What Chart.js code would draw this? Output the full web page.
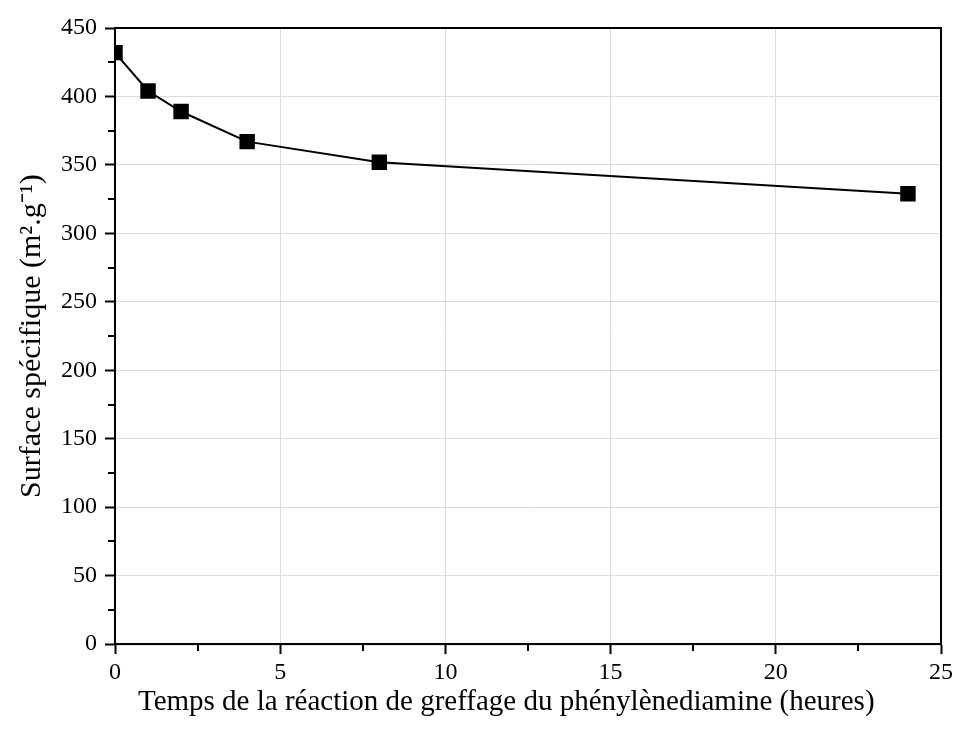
<!DOCTYPE html>
<html lang="fr">
<head>
    <meta charset="UTF-8">
    <title>Surface spécifique</title>
    <script src="https://cdn.jsdelivr.net/npm/chart.js"></script>
    <style>
        html, body { margin: 0; padding: 0; background: #fff; }
        #wrap { width: 954px; height: 734px; }
    </style>
</head>
<body>
    <div id="wrap"><canvas id="bet"></canvas></div>

    <script>
        // temps de greffage (h) et surface specifique (m2/g)
        const heures = [0, 1, 2, 4, 8, 24];
        const surface = [432, 404, 389, 367, 352, 329];

        const xTicks = [0, 5, 10, 15, 20, 25];
        const yTicks = [0, 50, 100, 150, 200, 250, 300, 350, 400, 450];

        const police = 'Liberation Serif, Times New Roman, serif';

        // cadre + petites graduations (minor ticks)
        const cadre = {
            id: 'cadre',
            afterDraw(chart) {
                const ctx = chart.ctx;
                const a = chart.chartArea;
                const sx = chart.scales.x, sy = chart.scales.y;
                ctx.save();
                ctx.strokeStyle = '#000';
                ctx.lineWidth = 2;
                ctx.strokeRect(a.left, a.top, a.right - a.left, a.bottom - a.top);
                ctx.beginPath();
                for (let v = 2.5; v < 25; v += 5) {
                    const px = Math.round(sx.getPixelForValue(v));
                    ctx.moveTo(px, a.bottom);
                    ctx.lineTo(px, a.bottom + 7);
                }
                for (let v = 25; v < 450; v += 50) {
                    const py = Math.round(sy.getPixelForValue(v));
                    ctx.moveTo(a.left, py);
                    ctx.lineTo(a.left - 7, py);
                }
                ctx.stroke();
                ctx.restore();
            }
        };

        new Chart(document.getElementById('bet'), {
            type: 'line',
            data: {
                datasets: [{
                    data: heures.map((h, i) => ({ x: h, y: surface[i] })),
                    borderColor: '#000',
                    backgroundColor: '#000',
                    borderWidth: 2,
                    pointStyle: 'rect',
                    pointRadius: 9.5,
                    pointHoverRadius: 9.5,
                    tension: 0,
                    fill: false
                }]
            },
            options: {
                responsive: true,
                maintainAspectRatio: false,
                animation: false,
                layout: { padding: { top: 28, right: 0, left: 14, bottom: 16 } },
                plugins: { legend: { display: false }, tooltip: { enabled: false } },
                scales: {
                    x: {
                        type: 'linear',
                        min: 0, max: 25,
                        afterBuildTicks: s => { s.ticks = xTicks.map(v => ({ value: v })); },
                        afterFit: s => { s.paddingRight = 13; },
                        ticks: { color: '#000', font: { family: police, size: 24, lineHeight: 1 }, padding: 7, maxRotation: 0 },
                        grid: { color: '#dcdcdc', lineWidth: 1, tickColor: '#000', tickLength: 10, tickWidth: 2 },
                        border: { color: '#000', width: 2 },
                        title: {
                            display: true,
                            // espaces insecables pour decaler le titre vers la gauche comme l'original
                            text: 'Temps de la réaction de greffage du phénylènediamine (heures)\u00A0\u00A0\u00A0\u00A0\u00A0\u00A0',
                            color: '#000',
                            font: { family: police, size: 29, lineHeight: 1.1 },
                            padding: { top: -6, bottom: 0 }
                        }
                    },
                    y: {
                        min: 0, max: 450,
                        afterBuildTicks: s => { s.ticks = yTicks.map(v => ({ value: v })); },
                        ticks: { color: '#000', font: { family: police, size: 24 }, padding: 8 },
                        grid: { color: '#dcdcdc', lineWidth: 1, tickColor: '#000', tickLength: 10, tickWidth: 2 },
                        border: { color: '#000', width: 2 },
                        title: {
                            display: true,
                            text: 'Surface spécifique (m².g⁻¹)',
                            color: '#000',
                            font: { family: police, size: 30 },
                            padding: { top: 0, bottom: 3 }
                        }
                    }
                }
            },
            plugins: [cadre]
        });
    </script>
</body>
</html>
